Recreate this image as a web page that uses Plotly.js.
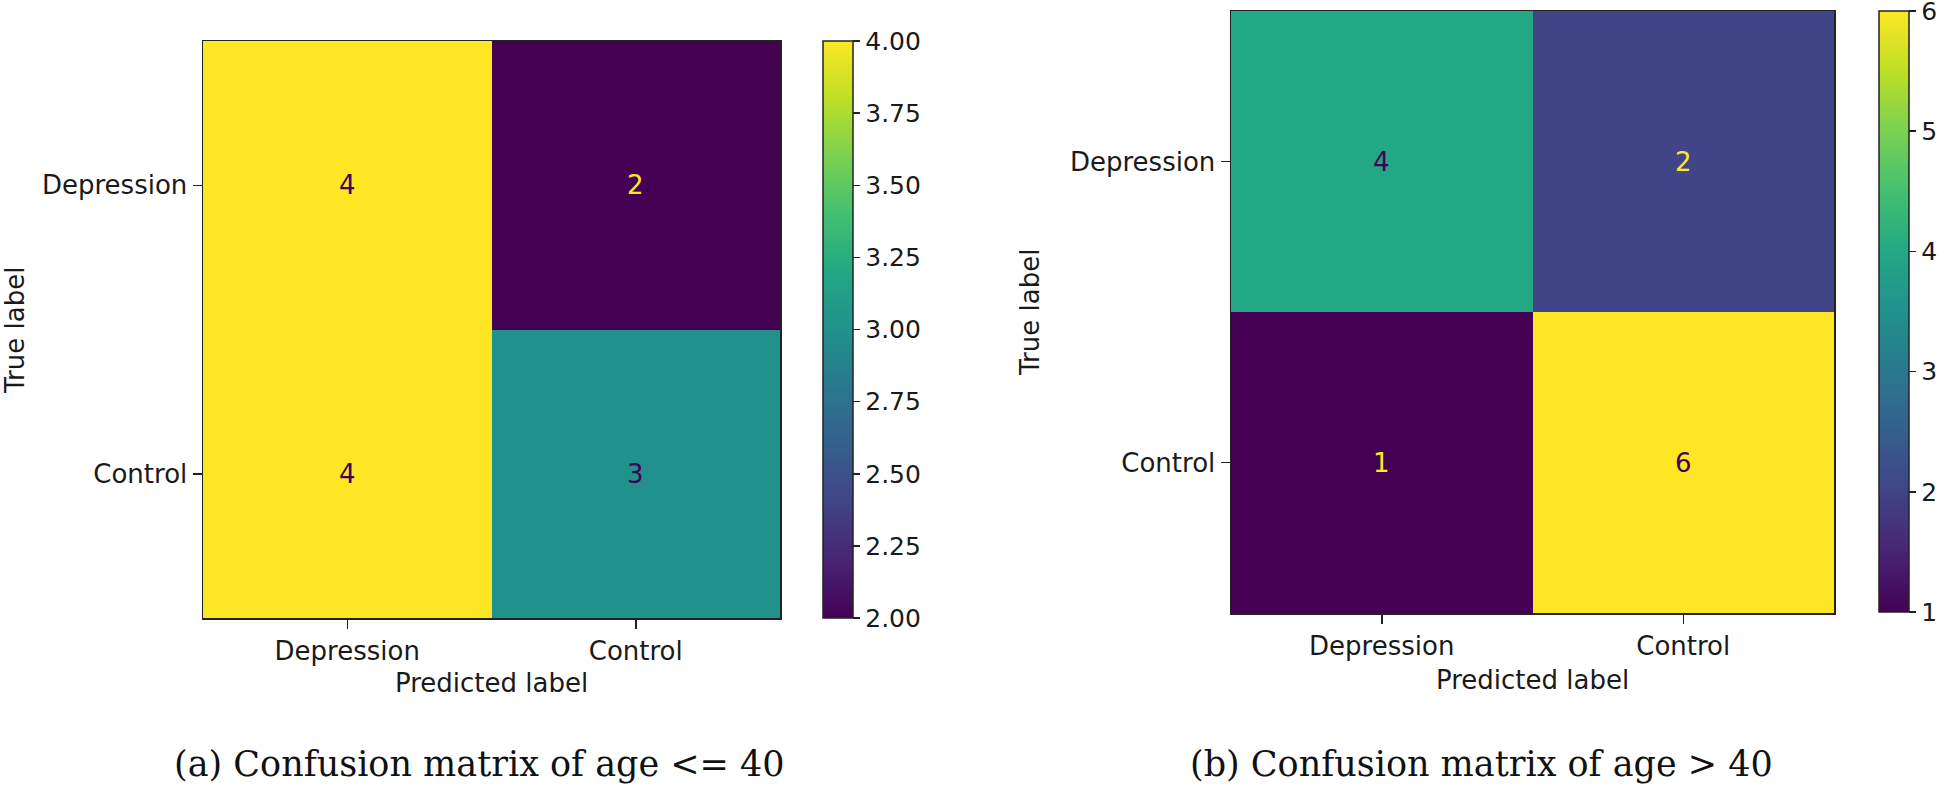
<!DOCTYPE html>
<html>
<head>
<meta charset="utf-8">
<script src="https://cdn.plot.ly/plotly-3.0.1.min.js"></script>
<style>html,body{margin:0;padding:0;background:#fff;}#chart{width:1946px;height:788px;}</style>
</head>
<body>
<div id="chart"></div>
<script>
// ---- data ----
const predictedLabels = ['Depression', 'Control'];
const trueLabels = ['Depression', 'Control'];
const cmYoung = [[4, 2], [4, 3]];   // age <= 40
const cmOld = [[4, 2], [1, 6]];     // age > 40
const youngTicks = [2.00, 2.25, 2.50, 2.75, 3.00, 3.25, 3.50, 3.75, 4.00];
const oldTicks = [1, 2, 3, 4, 5, 6];
const captionA = '(a) Confusion matrix of age &lt;= 40';
const captionB = '(b) Confusion matrix of age &gt; 40';

const viridis = [
  [0.0, '#440154'], [0.1, '#482475'], [0.2, '#414487'], [0.3, '#355f8d'],
  [0.4, '#2a788e'], [0.5, '#21918c'], [0.6, '#22a884'], [0.7, '#44bf70'],
  [0.8, '#7ad151'], [0.9, '#bddf26'], [1.0, '#fde725']
];
const W = 1946, H = 788;
const px = v => v / W, py = v => 1 - v / H;
const FONT = 'DejaVu Sans';
const TXT = '#1a1a1a';

function zr(m) { const f = m.flat(); return [Math.min(...f), Math.max(...f)]; }

const [yMin, yMax] = zr(cmYoung);
const [oMin, oMax] = zr(cmOld);

const cbCommon = {
  thickness: 30, thicknessmode: 'pixels', lenmode: 'fraction',
  xanchor: 'left', yanchor: 'top', xpad: 0, ypad: 0,
  outlinewidth: 1.5, outlinecolor: '#222',
  ticks: 'outside', ticklen: 7, tickwidth: 1.5, tickcolor: '#222',
  tickfont: {family: FONT, size: 25, color: TXT}, ticklabelstandoff: 0,
  ticklabeloverflow: 'allow'
};

const traces = [
  {
    type: 'heatmap', x: predictedLabels, y: trueLabels, z: cmYoung,
    zmin: yMin, zmax: yMax, colorscale: viridis, xaxis: 'x', yaxis: 'y',
    hoverinfo: 'skip',
    colorbar: Object.assign({}, cbCommon, {
      x: px(823), y: py(41), len: (618 - 41) / H,
      tickvals: youngTicks, ticktext: youngTicks.map(v => v.toFixed(2))
    })
  },
  {
    type: 'heatmap', x: predictedLabels, y: trueLabels, z: cmOld,
    zmin: oMin, zmax: oMax, colorscale: viridis, xaxis: 'x2', yaxis: 'y2',
    hoverinfo: 'skip',
    colorbar: Object.assign({}, cbCommon, {
      x: px(1879), y: py(11), len: (612 - 11) / H,
      tickvals: oldTicks, ticktext: oldTicks.map(String)
    })
  }
];

function axisStyle(extra) {
  return Object.assign({
    showline: true, mirror: true, linecolor: '#222', linewidth: 1.5,
    showgrid: false, zeroline: false, ticks: 'outside', ticklen: 9,
    tickwidth: 1.5, tickcolor: '#222', fixedrange: true,
    tickfont: {family: FONT, size: 26, color: TXT}
  }, extra);
}

const annotations = [];
function cellText(m, lo, hi, xa, ya) {
  const thresh = (lo + hi) / 2;
  m.forEach((row, i) => row.forEach((v, j) => {
    annotations.push({
      x: predictedLabels[j], y: trueLabels[i], xref: xa, yref: ya,
      text: String(v), showarrow: false,
      font: {family: FONT, size: 26, color: v < thresh ? '#fde725' : '#440154'}
    });
  }));
}
cellText(cmYoung, yMin, yMax, 'x', 'y');
cellText(cmOld, oMin, oMax, 'x2', 'y2');

function label(text, x, y, angle, font) {
  annotations.push({
    xref: 'paper', yref: 'paper', x: px(x), y: py(y), xanchor: 'center', yanchor: 'middle',
    text: text, showarrow: false, textangle: angle || 0, borderpad: 0,
    font: font || {family: FONT, size: 26, color: TXT}
  });
}
label('Predicted label', 491, 683);
label('Predicted label', 1532, 680);
label('True label', 15, 331, -90);
label('True label', 1030, 313, -90);
const capFont = {family: 'DejaVu Serif', size: 35, color: '#111'};
label(captionA, 479, 764, 0, capFont);
label(captionB, 1481, 764, 0, capFont);

const layout = {
  width: W, height: H, margin: {l: 0, r: 0, t: 0, b: 0},
  paper_bgcolor: '#fff', plot_bgcolor: '#fff', showlegend: false,
  xaxis: axisStyle({domain: [px(203), px(780)], anchor: 'y'}),
  yaxis: axisStyle({domain: [py(618), py(41)], anchor: 'x', autorange: 'reversed'}),
  xaxis2: axisStyle({domain: [px(1231), px(1834)], anchor: 'y2'}),
  yaxis2: axisStyle({domain: [py(613), py(11)], anchor: 'x2', autorange: 'reversed'}),
  annotations: annotations
};

Plotly.newPlot('chart', traces, layout, {displayModeBar: false, staticPlot: true});
</script>
</body>
</html>
